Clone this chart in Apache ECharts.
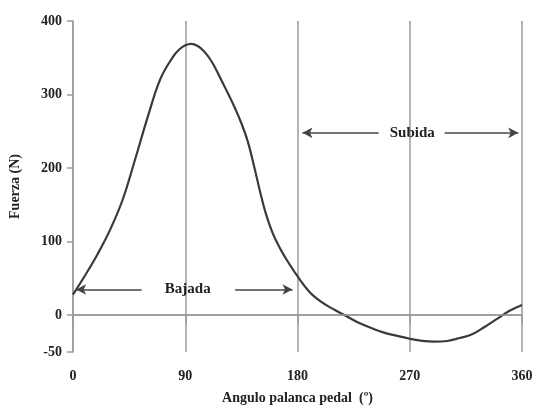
<!DOCTYPE html>
<html>
<head>
<meta charset="utf-8">
<script src="https://cdn.jsdelivr.net/npm/echarts@6/dist/echarts.min.js"></script>
<style>
  html, body { margin: 0; padding: 0; background: #fff; }
  #chart { width: 537px; height: 410px; }
</style>
</head>
<body>
<div id="chart"></div>
<script>
// pedal angle (deg) and force (N)
const angles = [0, 10, 20, 30, 40, 50, 60, 70, 80, 85, 90, 95, 100, 105, 110, 115, 120, 125, 130, 135, 140, 145,
  150, 155, 160, 165, 170, 180, 190, 200, 210, 220, 230, 240, 250, 260, 270, 280, 290, 300, 310, 320, 330, 340,
  350, 360];
const force = [28, 55, 84, 117, 158, 213, 270, 321, 351, 361, 367, 369, 366, 359, 348, 333, 316, 299, 281, 261, 237, 204,
  168, 136, 112, 94, 79, 53, 31, 17, 7, -2, -11, -18, -24, -28, -32, -35, -36, -35, -31, -26, -16, -5,
  6, 14];
const yLabels = [-50, 0, 100, 200, 300, 400];

// phase annotations: label position and arrows, in chart units
const phases = [
  { name: 'Bajada', at: 92, y: 35, left: [55, 2.5], right: [130, 176] },
  { name: 'Subida', at: 272, y: 248, left: [245, 184], right: [298, 357] }
];

const font = 'Liberation Serif';
const gray = '#9a9a9a';

let myChart = echarts.init(document.getElementById('chart'));

const arrows = [];
phases.forEach(p => {
  arrows.push([{ coord: [p.left[0], p.y] }, { coord: [p.left[1], p.y] }]);
  arrows.push([{ coord: [p.right[0], p.y] }, { coord: [p.right[1], p.y] }]);
});

let option = {
  animation: false,
  grid: { left: 73, right: 15, top: 21, bottom: 55 },
  xAxis: {
    type: 'value',
    min: 0,
    max: 360,
    interval: 90,
    name: 'Angulo palanca pedal  (º)',
    nameLocation: 'middle',
    nameGap: 39,
    nameTextStyle: { fontFamily: font, fontWeight: 'bold', fontSize: 14, color: '#222' },
    axisLine: { lineStyle: { color: gray, width: 1.5 } },
    axisTick: { length: 9, lineStyle: { color: gray, width: 1.5 } },
    axisLabel: { fontFamily: font, fontWeight: 'bold', fontSize: 14, color: '#222', margin: 17 },
    splitLine: { show: true, lineStyle: { color: gray, width: 1.5 } }
  },
  yAxis: {
    type: 'value',
    min: -50,
    max: 400,
    interval: 50,
    name: 'Fuerza (N)',
    nameLocation: 'middle',
    nameGap: 51,
    nameTextStyle: { fontFamily: font, fontWeight: 'bold', fontSize: 14, color: '#222' },
    axisLine: { show: true, lineStyle: { color: gray, width: 1.5 } },
    axisTick: { show: true, length: 6, customValues: yLabels, lineStyle: { color: gray, width: 1.5 } },
    axisLabel: { fontFamily: font, fontWeight: 'bold', fontSize: 14, color: '#222', margin: 11, customValues: yLabels },
    splitLine: { show: false }
  },
  series: [
    {
      type: 'line',
      data: angles.map((a, i) => [a, force[i]]),
      smooth: 0.4,
      showSymbol: false,
      lineStyle: { color: '#3a3a3a', width: 2.2 },
      markLine: {
        silent: true,
        symbol: 'none',
        label: { show: false },
        lineStyle: { color: gray, width: 1.5, type: 'solid' },
        data: [{ yAxis: 0 }]
      },
      z: 3
    },
    {
      type: 'line',
      data: [],
      markLine: {
        silent: true,
        symbol: ['none', 'arrow'],
        symbolSize: [8, 10],
        label: { show: false },
        lineStyle: { color: '#444', width: 1.5, type: 'solid' },
        data: arrows
      },
      markPoint: {
        silent: true,
        symbol: 'rect',
        symbolSize: 1,
        itemStyle: { color: 'rgba(0,0,0,0)' },
        label: {
          show: true,
          position: 'inside',
          fontFamily: font,
          fontWeight: 'bold',
          fontSize: 15,
          color: '#222',
          formatter: p => p.name
        },
        data: phases.map(p => ({ name: p.name, coord: [p.at, p.y] }))
      }
    }
  ]
};

myChart.setOption(option);
</script>
</body>
</html>
